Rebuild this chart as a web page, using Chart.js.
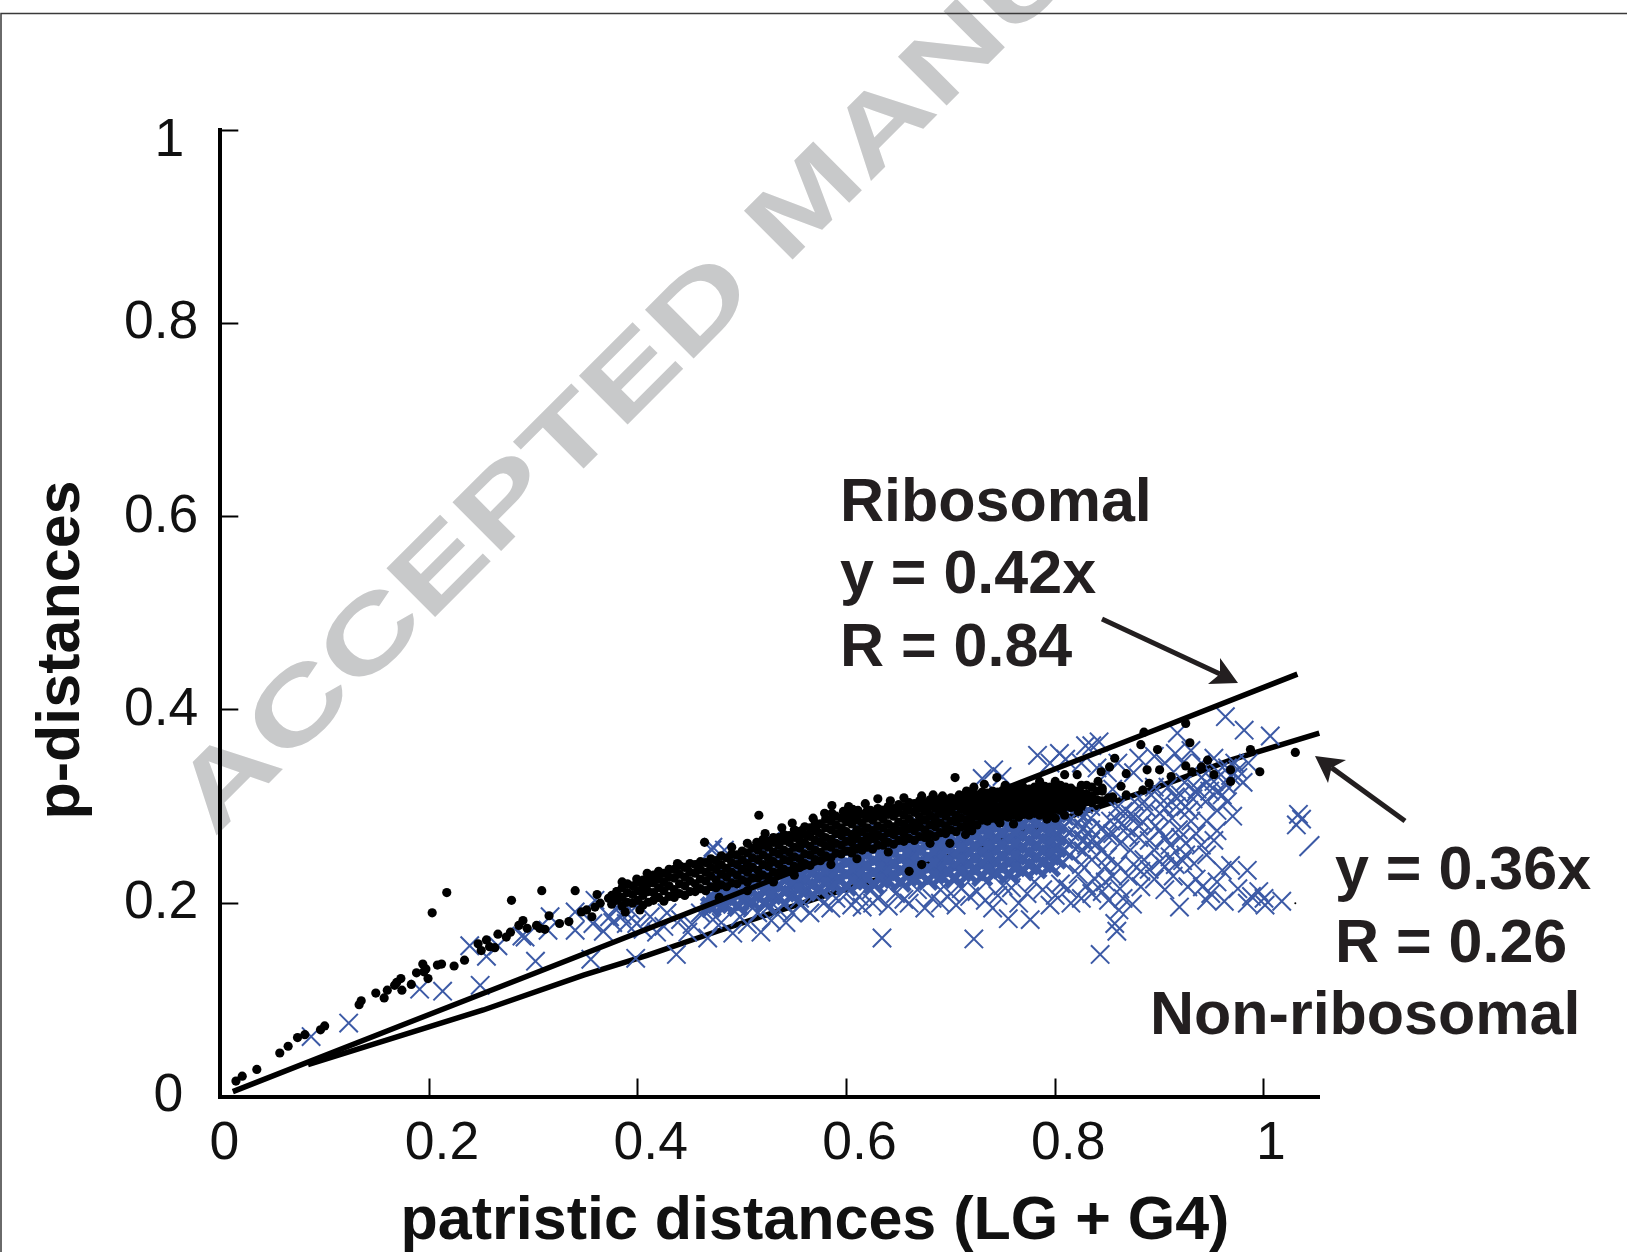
<!DOCTYPE html>
<html><head><meta charset="utf-8">
<style>html,body{margin:0;padding:0;background:#fff}canvas{display:block}</style>
<script src="https://cdn.jsdelivr.net/npm/chart.js@4/dist/chart.umd.min.js"></script>
</head><body><canvas id="c" width="1627" height="1252"></canvas>
<script>
const xTicks=[0,0.2,0.4,0.6,0.8,1];
const yTicks=[0,0.2,0.4,0.6,0.8,1];
const ribosomalFit=[[.012,.005],[.172,.073],[.30,.127],[.479,.203],[.70,.297],[.90,.381],[1.032,.437]];
const nonRibosomalFit=[[.084,.033],[.252,.0895],[.348,.1255],[.409,.146],[.479,.172],[.577,.207],[.655,.233],[.89,.317],[.968,.348],[1.053,.376]];
const ribosomalSparse=[[.015,.016],[.021,.021],[.035,.028],[.057,.045],[.065,.052],[.074,.061],[.081,.064],[.096,.069],[.100,.073],[.133,.095],[.135,.099],[.149,.107],[.157,.102],[.160,.110],[.167,.115],[.169,.118],[.173,.122],[.174,.110],[.183,.116],[.188,.128],[.194,.137],[.197,.132],[.195,.129],[.199,.122],[.208,.136],[.212,.137],[.224,.135],[.234,.141],[.203,.190],[.217,.211],[.250,.151],[.247,.158],[.255,.162],[.258,.155],[.263,.154],[.266,.168],[.274,.165],[.278,.170],[.279,.203],[.286,.177],[.290,.182],[.294,.174],[.303,.177],[.306,.174],[.311,.173],[.308,.213],[.315,.187],[.325,.179],[.334,.181],[.340,.213],[.346,.191],[.351,.193],[.356,.186],[.361,.209],[.359,.196],[.364,.200],[.372,.205],[.380,.212],[.385,.222],[.388,.191],[.399,.225],[.402,.193],[.409,.231],[.420,.233],[.438,.241],[.464,.263],
[.516,.291],[.514,.263],[.557,.275],[.563,.270],[.572,.274],[.586,.301],[.586,.293],[.597,.295],[.606,.297],[.611,.296],[.623,.296],[.630,.308],[.635,.296],[.672,.311],[.692,.311],[.704,.330],[.722,.320],[.732,.323],[.744,.330],[.708,.312],[.660,.233],[.672,.240],[.792,.287],[.809,.291],[.822,.295],[.747,.283],[.699,.262],[.714,.271],[.809,.333],[.821,.333],[.844,.336],[.852,.341],[.857,.350],[.868,.334],[.882,.364],[.885,.377],[.898,.359],[.888,.338],[.900,.338],[.925,.386],[.929,.366],[.925,.342],[.946,.348],[.940,.341],[.931,.336],[.952,.333],[.968,.338],[.968,.326],[.987,.359],[.996,.336],[1.030,.356],[.911,.331],[.890,.324],[.884,.317],[.868,.312],[.855,.310],[.851,.309],[.863,.321],[.835,.305],[.841,.326],[.845,.319],
[.49,.258],[.505,.262],[.522,.272],[.538,.278],[.548,.283],[.568,.288],[.579,.293],[.602,.300],[.618,.303],[.642,.306],[.655,.309],[.683,.312],[.715,.316],[.752,.322],[.768,.323],[.785,.326],[.80,.326],[.478,.206],[.505,.213],[.53,.222],[.55,.229],[.585,.24],[.61,.246],[.64,.253],[.68,.262],[.72,.275],[.76,.282],[.80,.288]];
const ribosomalBandColumns=[[.375,.199,.208],[.385,.197,.206,.216],[.395,.200,.209,.218],[.405,.198,.208,.216,.224],[.415,.203,.211,.221,.229],[.425,.202,.213,.222,.231],[.435,.206,.214,.226,.235],[.445,.208,.218,.227,.237],[.455,.212,.220,.231,.240],[.465,.213,.223,.232,.242],[.475,.216,.224,.235,.244],[.485,.217,.227,.236,.247],[.495,.220,.229,.240,.250],[.505,.222,.232,.241,.252],[.515,.226,.234,.245,.255],[.525,.227,.238,.247,.258,.264],[.535,.231,.240,.251,.260,.268],[.545,.233,.244,.253,.263,.270],[.555,.237,.246,.257,.265,.274],[.565,.239,.250,.259,.269,.278],[.575,.244,.253,.263,.272,.282],[.585,.247,.258,.266,.276,.285],[.595,.251,.260,.270,.278,.288],[.605,.252,.263,.271,.282,.290],[.615,.255,.264,.274,.283,.292],[.625,.256,.267,.275,.286,.294],[.635,.260,.268,.278,.287,.296],[.645,.261,.271,.279,.290,.298],[.655,.264,.272,.282,.291,.300],[.665,.265,.275,.283,.294,.303],[.675,.268,.276,.286,.295,.304],[.685,.269,.279,.287,.298,.305],[.695,.272,.280,.290,.298,.306],[.705,.274,.284,.291,.301,.308],[.715,.279,.286,.295,.302,.310],[.725,.281,.290,.296,.305,.312],[.735,.285,.291,.299,.306,.314],[.745,.286,.294,.300,.309,.315],[.755,.289,.295,.303,.309,.316],[.765,.289,.297,.303,.311,.317],[.775,.291,.297,.305,.311,.318],[.785,.291,.299,.305,.313,.319],[.795,.293,.300,.308,.314,.320],[.805,.296,.304,.310,.318,.322],[.815,.299,.305,.313,.319],[.825,.300,.308,.314,.322],[.835,.304,.311,.320],[.845,.306,.316]];
const ribosomalBandColumnsB=[[.38,.203,.212],[.39,.201,.211,.220],[.40,.203,.213,.222],[.41,.201,.212,.220,.228],[.42,.206,.216,.225,.232],[.43,.207,.218,.227,.235],[.44,.210,.220,.230,.239],[.45,.212,.223,.232,.241],[.46,.215,.225,.235,.243],[.47,.217,.228,.237,.246],[.48,.219,.230,.240,.249],[.49,.221,.232,.242,.251],[.50,.224,.235,.245,.254],[.51,.226,.237,.247,.257],[.52,.229,.240,.250,.260,.266],[.53,.232,.243,.253,.263,.268],[.54,.235,.245,.255,.265,.271],[.55,.238,.248,.258,.268,.276],[.56,.241,.251,.262,.271,.279],[.57,.245,.255,.265,.275,.283],[.58,.249,.259,.268,.278,.287],[.59,.252,.262,.272,.281,.290],[.60,.254,.264,.274,.284,.292],[.61,.256,.267,.276,.286,.294],[.62,.258,.269,.278,.288,.296],[.63,.260,.271,.280,.290,.298],[.64,.263,.273,.282,.292,.300],[.65,.265,.275,.284,.294,.302],[.66,.267,.277,.287,.296,.304],[.67,.269,.279,.289,.298,.306],[.68,.271,.281,.291,.300,.307],[.69,.273,.283,.293,.301,.308],[.70,.276,.285,.295,.303,.309],[.71,.279,.288,.297,.305,.311],[.72,.283,.291,.299,.307,.313],[.73,.286,.294,.302,.309,.315],[.74,.288,.296,.304,.311,.316],[.75,.290,.298,.305,.312,.317],[.76,.291,.299,.306,.313,.318],[.77,.292,.300,.307,.314,.319],[.78,.293,.301,.308,.315,.320],[.79,.295,.303,.310,.316,.321],[.80,.297,.305,.312,.318],[.81,.300,.307,.314,.320],[.82,.302,.310,.316],[.83,.305,.313,.322],[.84,.307,.316]];
const nonRibosomalSparse=[[.087,.062],[.123,.076],[.191,.111],[.213,.109],[.249,.115],[.239,.156],[.255,.145],[.266,.156],[.289,.166],[.292,.165],[.302,.140],[.314,.172],[.316,.186],[.340,.172],[.340,.191],[.355,.142],[.359,.203],[.367,.171],[.373,.186],[.398,.143],[.399,.179],[.437,.147],[.467,.164],[.428,.190],[.472,.258],[.441,.183],[.460,.190],[.472,.183],[.380,.196],[.389,.179],[.357,.179],[.412,.186],[.376,.180],[.385,.187],[.394,.192],[.405,.173],[.418,.170],[.425,.176],[.448,.170],[.452,.178],[.471,.255],[.483,.255],[.510,.255],[.536,.262],[.528,.265],
[.491,.169],[.518,.170],[.542,.180],[.634,.164],[.722,.163],[.755,.184],[.776,.183],[.843,.147],[.859,.171],[.857,.179],[.861,.193],[.874,.199],[.851,.203],[.919,.196],[.984,.200],[1.001,.198],[1.017,.202],[.988,.207],[.949,.210],[.941,.217],[.927,.217],[.913,.228],[.984,.234],[.968,.239],[.960,.234],[.933,.241],[.910,.248],[.882,.217],[.882,.233],[.835,.210],[.800,.208],[.773,.210],[.733,.203],[.718,.207],[.682,.205],[.647,.210],[.624,.214],[.690,.214],[.952,.265],[.925,.262],[1.033,.292],[1.031,.281],[1.036,.287],[.963,.393],[.981,.379],[1.006,.373],[.917,.376],[.835,.363],[.829,.363],[.804,.355],[.783,.353],[.741,.338],[.749,.331],[.730,.329],[.810,.349],[.795,.345],[.842,.367],
[.480,.180],[.498,.186],[.505,.178],[.515,.190],[.528,.182],[.535,.193],[.548,.190],[.556,.198],[.565,.190],[.578,.200],[.590,.205],[.605,.198],[.612,.207],[.630,.205],[.655,.204],[.668,.214],[.700,.210],[.745,.208],[.758,.216],[.788,.214],[.812,.215],[.825,.205],[.848,.222],[.862,.215],[.870,.228],[.895,.225],[.905,.214],[.935,.225],[.955,.222],[.975,.215],[.995,.212],[1.0,.205],[.945,.203],[.962,.202],[.905,.238],[.922,.244],[.945,.250],[.895,.255],[.905,.268],[.918,.276],[.935,.272],[.885,.245],[.872,.255],[.860,.240],[.848,.238],[.838,.225],[.822,.230],
[.845,.255],[.850,.270],[.853,.285],[.858,.298],[.862,.262],[.868,.278],[.872,.292],[.876,.305],[.880,.268],[.884,.284],[.888,.298],[.892,.312],[.896,.280],[.900,.293],[.904,.306],[.908,.320],[.912,.288],[.916,.300],[.920,.312],[.924,.325],[.928,.296],[.932,.308],[.936,.318],[.940,.330],[.944,.305],[.948,.316],[.952,.326],[.956,.336],[.960,.312],[.964,.322],[.968,.332],[.972,.345],[.915,.355],[.905,.345],[.922,.345],[.930,.358],[.875,.335],[.860,.345],[.850,.335],[.880,.350],[.895,.352],[.940,.345],[.952,.350],[.975,.330],[.855,.318],[.840,.340],[.825,.345],[.830,.260],[.835,.245],[.825,.240],
[.51,.195],[.525,.196],[.54,.2],[.555,.205],[.57,.208],[.585,.195],[.60,.21],[.615,.196],[.625,.2],[.64,.197],[.66,.2],[.675,.195],[.69,.2],[.705,.198],[.71,.215],[.725,.212],[.74,.195],[.75,.218],[.765,.2],[.78,.222],[.795,.198],[.805,.22],[.815,.2],[.83,.218],[.845,.212],[.855,.228],[.865,.205],[.875,.24],[.89,.235],[.9,.243],[.915,.24],[.925,.25],[.94,.26],[.955,.275],[.97,.29],[.965,.305],[.955,.296],[.945,.285],[.93,.285],[.92,.268],[.91,.26],[.9,.275],[.89,.265],[.88,.28],[.87,.27],[.86,.285],[.85,.248],[.84,.262],[.845,.278],[.855,.272],[.865,.295],[.875,.29],[.885,.305],[.895,.32],[.905,.298],[.915,.31],[.925,.3],[.935,.315],[.945,.325],[.955,.315],[.965,.34],[.975,.338],[.985,.345],[.98,.325],
[.808,.242],[.808,.254],[.808,.266],[.808,.278],[.808,.290],[.808,.302],[.814,.250],[.814,.262],[.814,.274],[.814,.286],[.814,.298],[.821,.258],[.821,.270],[.821,.282],[.821,.294],[.821,.306],[.827,.254],[.827,.266],[.827,.278],[.827,.290],[.827,.302],[.834,.264],[.834,.276],[.834,.288],[.834,.300]];
const nonRibosomalCoreColumns=[[.47,.196,.207],[.483,.199,.210,.222],[.496,.197,.208,.220,.232],[.509,.202,.214,.226,.238],[.522,.200,.212,.224,.236],[.535,.206,.218,.230,.242],[.548,.208,.220,.232,.244],[.561,.213,.225,.237,.249],[.574,.215,.227,.239,.251],[.587,.220,.232,.244,.256],[.6,.218,.230,.242,.254,.262],[.613,.222,.234,.246,.258,.266],[.626,.220,.232,.244,.256,.268],[.639,.224,.236,.248,.260,.272],[.652,.222,.234,.246,.258,.270],[.665,.226,.238,.250,.262,.274],[.678,.224,.236,.248,.260,.272,.282],[.691,.228,.240,.252,.264,.276,.286],[.704,.226,.238,.250,.262,.274,.286],[.717,.230,.242,.254,.266,.278,.290],[.73,.228,.240,.252,.264,.276,.288],[.743,.232,.244,.256,.268,.280,.292],[.756,.230,.242,.254,.266,.278,.290],[.769,.234,.246,.258,.270,.282,.294],[.782,.236,.248,.260,.272,.284,.296],[.795,.238,.250,.262,.274,.286,.298]];
const nonRibosomalCoreColumnsB=[[.476,.200,.212],[.489,.203,.215,.228],[.502,.205,.217,.229,.240],[.515,.207,.220,.232,.244],[.528,.209,.222,.234,.246],[.541,.212,.224,.236,.248],[.554,.216,.228,.240,.252],[.567,.219,.231,.243,.255],[.58,.222,.234,.246,.258],[.593,.224,.236,.248,.260],[.606,.224,.236,.248,.260,.268],[.619,.226,.238,.250,.262,.272],[.632,.226,.238,.250,.262,.274],[.645,.228,.240,.252,.264,.276],[.658,.228,.240,.252,.264,.276],[.671,.230,.242,.254,.266,.278],[.684,.230,.242,.254,.266,.278,.288],[.697,.232,.244,.256,.268,.280,.290],[.71,.234,.246,.258,.270,.282,.292],[.723,.234,.246,.258,.270,.282,.294],[.736,.236,.248,.260,.272,.284,.296],[.749,.236,.248,.260,.272,.284,.296],[.762,.238,.250,.262,.274,.286,.298],[.775,.240,.252,.264,.276,.288,.300],[.788,.242,.254,.266,.278,.290,.302],[.801,.246,.258,.270,.282,.294,.304]];
const strayClippedCross=[[1.0435,.259]];
const strayDot=[[1.03,.2]];

const flat=cols=>cols.flatMap(c=>c.slice(1).map(y=>({x:c[0],y})));
const xy=a=>a.map(p=>({x:p[0],y:p[1]}));
const ink='#231f20', blue='#3c5aa6';

function arrow(ctx,sx,sy,tx,ty,b1x,b1y,b2x,b2y){
  ctx.strokeStyle=ink;ctx.fillStyle=ink;ctx.lineWidth=5;
  const nx=(b1x+b2x)/2*.75+tx*.25, ny=(b1y+b2y)/2*.75+ty*.25;
  ctx.beginPath();ctx.moveTo(sx,sy);ctx.lineTo(nx,ny);ctx.stroke();
  ctx.beginPath();ctx.moveTo(tx,ty);ctx.lineTo(b1x,b1y);ctx.lineTo(nx,ny);ctx.lineTo(b2x,b2y);ctx.closePath();ctx.fill();
}
const decor={id:'decor',
  beforeDraw(ch){
    const c=ch.ctx;c.save();
    c.fillStyle='#fff';c.fillRect(0,0,1627,1252);
    c.save();c.translate(214,838);c.rotate(-Math.PI/4);c.scale(1.4,1);
    c.fillStyle='#c8c9ca';c.font='bold 100px "Liberation Sans"';c.textBaseline='alphabetic';c.fillText('ACCEPTED MANUSCRIPT',0,0);c.restore();
    c.strokeStyle='#3a3a3a';c.lineWidth=1.5;c.beginPath();c.moveTo(1,1252);c.lineTo(1,13.5);c.lineTo(1627,13.5);c.stroke();
    c.restore();
    const yi=ch.scales.y.getLabelItems(ch.chartArea);
    if(!yi._moved){yi._moved=true;
      const dy=[0,0,0,1,0,11],dx=[-13,2,2,2,2,-12];
      yi.forEach((it,i)=>{it.options.translation[1]+=dy[i];it.options.translation[0]+=dx[i];});}
    const xi=ch.scales.x.getLabelItems(ch.chartArea);
    if(!xi._moved){xi._moved=true;
      const dx=[4,13,13,13,13,7];
      xi.forEach((it,i)=>{it.options.translation[0]+=dx[i];});}
  },
  afterDraw(ch){
    const c=ch.ctx;c.save();
    c.fillStyle=ink;c.font='bold 61px "Liberation Sans"';c.textBaseline='alphabetic';c.textAlign='left';
    c.fillText('Ribosomal',840,521);c.fillText('y = 0.42x',840,593);c.fillText('R = 0.84',840,666);
    c.fillText('y = 0.36x',1335,889);c.fillText('R = 0.26',1335,962);c.fillText('Non-ribosomal',1150,1034);
    arrow(c,1102,619,1238,683,1208,684,1220,658);
    arrow(c,1405,821,1315,756,1346,760,1328,783);
    c.fillStyle='#111';c.font='bold 61px "Liberation Sans"';
    c.textAlign='center';c.fillText('patristic distances (LG + G4)',815,1239);
    c.save();c.translate(79,650);c.rotate(-Math.PI/2);c.fillText('p-distances',0,0);c.restore();
    c.restore();
  }};
const axisGrid={drawOnChartArea:false,drawTicks:true,tickLength:-18,tickWidth:2,tickColor:'#000'};
const axisBorder={display:true,color:'#000',width:4};
const tickFont={family:'"Liberation Sans"',size:53.5};
const tickText=v=>String(Math.round(v*10)/10);
new Chart(document.getElementById('c'),{
  type:'scatter',
  data:{datasets:[
    {label:'Ribosomal',data:[...xy(ribosomalSparse),...flat(ribosomalBandColumns),...flat(ribosomalBandColumnsB)],pointStyle:'circle',pointRadius:4.6,pointBorderWidth:0,backgroundColor:'#000',order:1,clip:false},
    {label:'Ribosomal fit',data:xy(ribosomalFit),showLine:true,borderColor:'#000',borderWidth:5.5,pointRadius:0,order:2,clip:false},
    {label:'Non-ribosomal',data:xy(nonRibosomalSparse),pointStyle:'crossRot',pointRadius:13,pointBorderWidth:2,borderColor:blue,order:3,clip:false},
    {label:'Non-ribosomal core',data:[...flat(nonRibosomalCoreColumns),...flat(nonRibosomalCoreColumnsB)],pointStyle:'crossRot',pointRadius:13,pointBorderWidth:5.4,borderColor:blue,order:3,clip:false},
    {label:'Clipped marker',data:xy(strayClippedCross),pointStyle:'line',pointRotation:-45,pointRadius:14,pointBorderWidth:2,borderColor:blue,order:3,clip:false},
    {label:'Stray',data:xy(strayDot),pointStyle:'circle',pointRadius:1,pointBorderWidth:0,backgroundColor:'#000',order:3,clip:false},
    {label:'Non-ribosomal fit',data:xy(nonRibosomalFit),showLine:true,borderColor:'#000',borderWidth:5.5,pointRadius:0,order:4,clip:false}
  ]},
  plugins:[decor],
  options:{responsive:false,animation:false,devicePixelRatio:1,
    layout:{padding:{top:130,right:308,left:0,bottom:0}},
    plugins:{legend:{display:false},tooltip:{enabled:false}},
    scales:{
      x:{type:'linear',min:0,max:1.0527,afterFit(s){s.height=155.5;},afterBuildTicks(s){s.ticks=xTicks.map(v=>({value:v}));},
        grid:axisGrid,border:axisBorder,
        ticks:{autoSkip:false,maxRotation:0,includeBounds:false,color:'#111',font:tickFont,padding:34,callback:tickText}},
      y:{type:'linear',min:0,max:1,afterFit(s){s.width=220.3;},afterBuildTicks(s){s.ticks=yTicks.map(v=>({value:v}));},
        grid:axisGrid,border:axisBorder,
        ticks:{autoSkip:false,includeBounds:false,color:'#111',font:tickFont,padding:42,callback:tickText}}
    }}
});
</script></body></html>
